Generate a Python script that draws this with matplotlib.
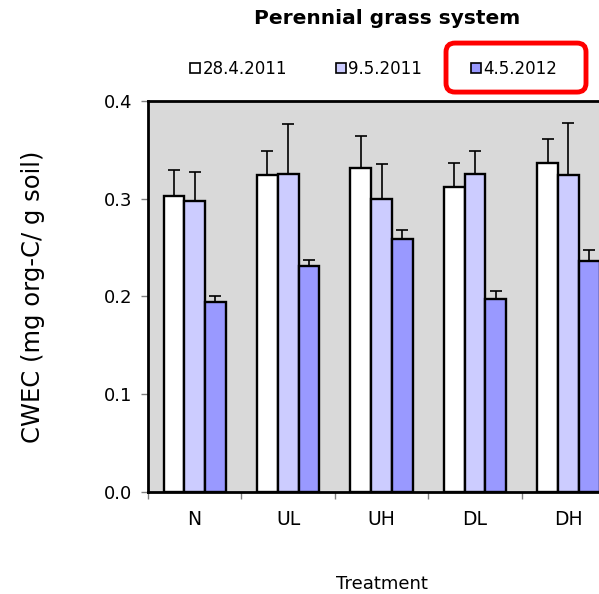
import numpy as np
import matplotlib
matplotlib.use("Agg")
import matplotlib.pyplot as plt
from matplotlib.patches import Patch, FancyBboxPatch

treatments = ["N", "UL", "UH", "DL", "DH"]
dates = ["28.4.2011", "9.5.2011", "4.5.2012"]
colors = ["#FFFFFF", "#CCCCFF", "#9999FF"]

# mean CWEC and upper error per sampling date
cwec_2011a = [0.303, 0.324, 0.331, 0.312, 0.337]
cwec_2011b = [0.298, 0.325, 0.300, 0.325, 0.324]
cwec_2012 = [0.194, 0.231, 0.259, 0.197, 0.236]
err_2011a = [0.026, 0.025, 0.033, 0.025, 0.024]
err_2011b = [0.029, 0.051, 0.036, 0.024, 0.053]
err_2012 = [0.006, 0.006, 0.009, 0.009, 0.012]

plt.rcParams['font.family'] = ['DejaVu Sans']

fig = plt.figure(figsize=(5.99, 5.94), dpi=100)
ax = fig.add_axes([0.247, 0.1717, 0.78, 0.6583])
ax.set_facecolor("#D9D9D9")

x = np.arange(len(treatments))
w = 2 / 9
series = [(cwec_2011a, err_2011a), (cwec_2011b, err_2011b), (cwec_2012, err_2012)]
for i, (vals, errs) in enumerate(series):
    pos = x + (i - 1) * w
    ax.bar(pos, vals, width=w, color=colors[i], edgecolor="black", linewidth=1.7, zorder=2)
    ax.errorbar(pos, vals, yerr=[np.zeros(len(errs)), errs], fmt="none",
                ecolor="black", elinewidth=1.2, capsize=4.3, capthick=1.2, zorder=3)

ax.set_xlim(-0.5, 4.5)
ax.set_ylim(0, 0.4)
ax.set_yticks([0.0, 0.1, 0.2, 0.3, 0.4])
ax.set_yticklabels(["0.0", "0.1", "0.2", "0.3", "0.4"])
ax.set_xticks(x)
ax.set_xticklabels(treatments)
ax.set_xticks(np.arange(-0.5, 5, 1), minor=True)
ax.tick_params(axis="x", which="major", length=0, pad=13, labelsize=13.5)
ax.tick_params(axis="x", which="minor", length=5, color="#808080", width=1)
ax.tick_params(axis="y", length=5, color="#808080", width=1, labelsize=13, pad=6.5)
for s in ax.spines.values():
    s.set_linewidth(2)
ax.spines["right"].set_visible(False)

ax.set_xlabel("Treatment", fontsize=13, labelpad=33)
ax.set_ylabel("CWEC (mg org-C/ g soil)", fontsize=17.5, labelpad=42)

fig.text(0.646, 0.969, "Perennial grass system", ha="center", va="center",
         fontsize=14.5, fontweight="bold")

handles = [Patch(facecolor=c, edgecolor="black", linewidth=1.2) for c in colors]
fig.legend(handles, dates, loc="center", bbox_to_anchor=(0.6235, 0.884), ncol=3,
           frameon=False, fontsize=12, handlelength=0.6, handleheight=0.6,
           handletextpad=0.15, columnspacing=2.92)

box = FancyBboxPatch((0.7446, 0.845), 0.2337, 0.0825, transform=fig.transFigure,
                     boxstyle="round,pad=0,rounding_size=0.015",
                     facecolor="none", edgecolor="#FF0000", linewidth=3.5)
fig.patches.append(box)

fig.savefig("out.png", dpi=100)
